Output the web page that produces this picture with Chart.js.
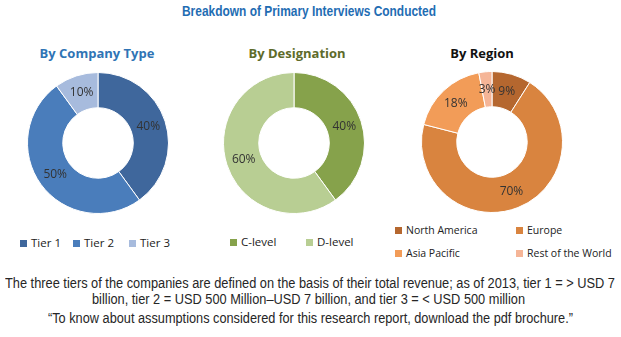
<!DOCTYPE html>
<html>
<head>
<meta charset="utf-8">
<script src="https://cdn.jsdelivr.net/npm/chart.js@4.4.1/dist/chart.umd.min.js"></script>
<style>
  body { margin:0; width:621px; height:337px; background:#fff; position:relative; overflow:hidden; font-family:"Open Sans", Arial, sans-serif; }
  .abs { position:absolute; }
  .fit { position:absolute; white-space:nowrap; transform-origin:0 0; line-height:16px; }
  #title { top:3px; font:bold 15px "Liberation Sans", sans-serif; line-height:16px; color:#1F6DB3; }
  .sub { top:44px; font-weight:bold; font-size:13px; text-align:center; width:180px; }
  .leg { font-size:11.5px; color:#222; white-space:nowrap; }
  .leg.small { font-size:10.5px; }
  .leg span.box { display:inline-block; width:7px; height:7px; margin-right:4px; }
  .note { font-family:"Liberation Sans", sans-serif; font-size:14px; color:#262626; }
  canvas { position:absolute; }
</style>
</head>
<body>
<div id="title" class="fit" data-w="254" data-cx="309">Breakdown of Primary Interviews Conducted</div>
<div class="abs sub" style="left:7px;color:#2F74B5;">By Company Type</div>
<div class="abs sub" style="left:207px;color:#5E6B2A;">By Designation</div>
<div class="abs sub" style="left:392px;color:#111;">By Region</div>

<canvas id="c1" width="150" height="150" style="left:23px;top:68px;"></canvas>
<canvas id="c2" width="150" height="150" style="left:219px;top:68px;"></canvas>
<canvas id="c3" width="150" height="150" style="left:417px;top:67px;"></canvas>

<div id="leg1"></div>
<div id="leg2"></div>
<div id="leg3"></div>

<div class="fit note" style="top:275px;" data-w="610" data-cx="310">The three tiers of the companies are defined on the basis of their total revenue; as of 2013, tier 1 = &gt; USD 7</div>
<div class="fit note" style="top:291px;" data-w="433" data-cx="308">billion, tier 2 = USD 500 Million–USD 7 billion, and tier 3 = &lt; USD 500 million</div>
<div class="fit note" style="top:310px;" data-w="525" data-cx="310">“To know about assumptions considered for this research report, download the pdf brochure.”</div>

<script>
// chart data
var companyLabels = ["Tier 1", "Tier 2", "Tier 3"];
var companyValues = [40, 50, 10];
var companyColors = ["#3F679C", "#4A7DBB", "#A7BBDD"];

var designationLabels = ["C-level", "D-level"];
var designationValues = [40, 60];
var designationColors = ["#86A24B", "#B8CE93"];

var regionLabels = ["North America", "Europe", "Asia Pacific", "Rest of the World"];
var regionValues = [9, 70, 18, 3];
var regionColors = ["#B5672F", "#D9843F", "#F29C58", "#F5B597"];

// narrow-font look: squeeze text lines to the widths seen in the original
document.querySelectorAll('.fit').forEach(function(el) {
  var w = el.getBoundingClientRect().width;
  var target = +el.dataset.w;
  el.style.left = (+el.dataset.cx - target / 2) + 'px';
  el.style.transform = 'scaleX(' + (target / w) + ')';
});

// draw the % text in the middle of each slice
var sliceLabels = {
  id: 'sliceLabels',
  afterDatasetsDraw: function(chart) {
    var ctx = chart.ctx;
    var ds = chart.data.datasets[0];
    ctx.save();
    ctx.font = '12px "Open Sans", sans-serif';
    ctx.fillStyle = '#333';
    ctx.textAlign = 'center';
    ctx.textBaseline = 'middle';
    chart.getDatasetMeta(0).data.forEach(function(arc, i) {
      var p = arc.tooltipPosition();
      ctx.fillText(ds.data[i] + '%', p.x, p.y);
    });
    ctx.restore();
  }
};

var donut = function(id, labels, values, colors) {
  var ctx = document.getElementById(id).getContext("2d");
  return new Chart(ctx, {
    type: 'doughnut',
    data: {
      labels: labels,
      datasets: [{
        data: values,
        backgroundColor: colors,
        borderColor: '#fff',
        borderWidth: 1
      }]
    },
    options: {
      responsive: false,
      animation: false,
      cutout: '50%',
      layout: { padding: 4 },
      plugins: { legend: { display: false }, tooltip: { enabled: false } }
    },
    plugins: [sliceLabels]
  });
};

donut("c1", companyLabels, companyValues, companyColors);
donut("c2", designationLabels, designationValues, designationColors);
donut("c3", regionLabels, regionValues, regionColors);

// legends
var legend = function(id, labels, colors, spots, cls) {
  var el = document.getElementById(id);
  labels.forEach(function(l, i) {
    var d = document.createElement('div');
    d.className = 'abs leg ' + (cls || '');
    d.style.left = spots[i][0] + 'px';
    d.style.top = spots[i][1] + 'px';
    d.innerHTML = '<span class="box" style="background:' + colors[i] + '"></span>' + l;
    el.appendChild(d);
  });
};
legend("leg1", companyLabels, companyColors, [[20, 235], [73, 235], [129, 235]]);
legend("leg2", designationLabels, designationColors, [[230, 234], [306, 234]]);
legend("leg3", regionLabels, regionColors, [[395, 223], [516, 223], [395, 246], [516, 246]], 'small');
</script>
</body>
</html>
